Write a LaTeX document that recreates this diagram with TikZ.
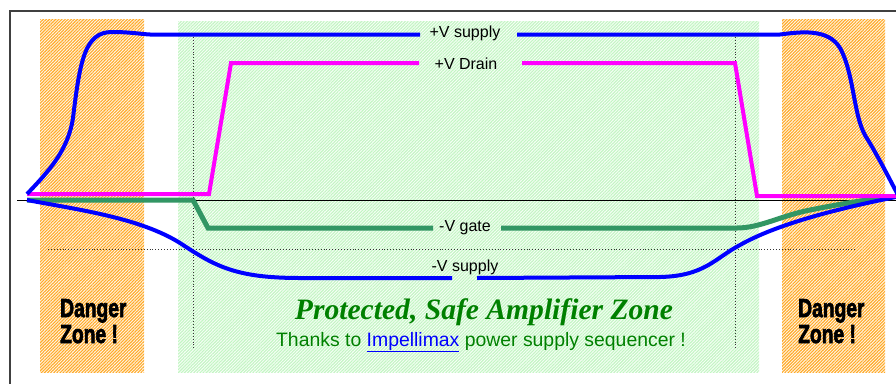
\documentclass[tikz,border=0pt]{standalone}
\usepackage{fontspec}
\setmainfont{Liberation Sans}
\newfontfamily\corsfont{Liberation Serif}
\newfontfamily\dangerfont[FakeBold=3,BoldFeatures={FakeBold=3}]{Liberation Sans}
\usetikzlibrary{patterns.meta}
\definecolor{vblue}{RGB}{0,0,255}
\definecolor{vmag}{RGB}{255,0,255}
\definecolor{vgreen}{RGB}{50,150,100}
\definecolor{txtgreen}{RGB}{0,128,0}
\definecolor{orfill}{RGB}{255,248,235}
\definecolor{orline}{RGB}{255,170,40}
\definecolor{grfill}{RGB}{248,255,248}
\definecolor{grline}{RGB}{195,245,195}
\tikzset{
  dangerzone/.style={fill=orfill, postaction={pattern={Lines[angle=45,distance=2.2pt,line width=1.1pt]}, pattern color=orline}},
  safezone/.style={fill=grfill, postaction={pattern={Lines[angle=45,distance=2.2pt,line width=1.1pt]}, pattern color=grline}},
  guide/.style={draw=black!80, line width=0.9pt, dotted},
  trace/.style={line width=4pt},
  sigl/.style={font=\fontsize{16}{18}\selectfont, text=black, inner sep=0pt},
  dangertxt/.style={font=\dangerfont\bfseries\fontsize{26}{28}\selectfont, inner sep=0pt, anchor=base west}
}
\begin{document}
\begin{tikzpicture}[x=1pt,y=-1pt]
\useasboundingbox (0,0) rectangle (896,383);
\fill[white] (0,0) rectangle (896,383);
% zones
\path[safezone] (178,21) rectangle (759,372);
\path[dangerzone] (40,19) rectangle (144,372);
\path[dangerzone] (782,19) rectangle (885,372);
% frame
\draw[black!75, line width=1.3pt] (10,11) rectangle (905,395);
% guides
\draw[guide] (193,37) -- (193,350);
\draw[guide] (735,37) -- (735,350);
\draw[guide] (48,249.5) -- (855,249.5);
% axis
\draw[black, line width=0.9pt] (17,200) -- (900,200);
% -V gate
\draw[trace, vgreen, line width=5pt] (27,200) -- (193,200) -- (208,228) -- (433,228);
\draw[trace, vgreen, line width=5pt] (501,228) -- (737,228)
  .. controls (760,228) and (780,216) .. (810,210)
  .. controls (840,204) and (865,200) .. (888,197);
% -V supply
\draw[trace, vblue] (27,200) .. controls (80,210) and (140,218) .. (180,243)
  .. controls (215,266) and (235,278) .. (300,278) -- (452,278);
\draw[trace, vblue] (477,278) -- (660,277)
  .. controls (705,276) and (715,258) .. (740,245)
  .. controls (770,228) and (820,212) .. (896,197);
% +V Drain
\draw[trace, vmag] (27,194) -- (209,194) -- (231,63) -- (419,63);
\draw[trace, vmag] (522,63) -- (735,63) -- (757,196) -- (896,196);
% +V supply
\draw[trace, vblue] (27,194) .. controls (50,170) and (68,150) .. (73,118)
  .. controls (80,60) and (85,32) .. (112,32)
  .. controls (130,32) and (140,34) .. (150,34.5) -- (420,34.5);
\draw[trace, vblue] (517,34.5) -- (780,34.5)
  .. controls (800,32) and (828,28) .. (840,48)
  .. controls (855,75) and (853,120) .. (868,140)
  .. controls (880,160) and (890,180) .. (898,195);
% labels
\node[sigl] (lvs) at (465,33) {+V supply};
\node[sigl] (lvd) at (466,64) {+V Drain};
\node[sigl] (lvg) at (465,228) {-V gate};
\node[sigl] (lvn) at (465,267) {-V supply};
% danger texts
\node[dangertxt] (dl1) at (60,317) {\scalebox{0.74}[1]{Danger}};
\node[dangertxt] (dl2) at (60,343) {\scalebox{0.74}[1]{Zone !}};
\node[dangertxt] (dr1) at (798,317) {\scalebox{0.74}[1]{Danger}};
\node[dangertxt] (dr2) at (798,343) {\scalebox{0.74}[1]{Zone !}};
% center texts
\node[anchor=base, inner sep=0pt, text=txtgreen] (prot) at (484,319)
  {\resizebox{378pt}{!}{\corsfont\bfseries\itshape\fontsize{28}{30}\selectfont Protected, Safe Amplifier Zone}};
\node[anchor=base, inner sep=0pt, text=txtgreen, font=\fontsize{19.4}{22}\selectfont] (thx) at (481,346)
  {Thanks to \textcolor{vblue}{\underline{Impellimax}} power supply sequencer !};
\end{tikzpicture}
\end{document}
